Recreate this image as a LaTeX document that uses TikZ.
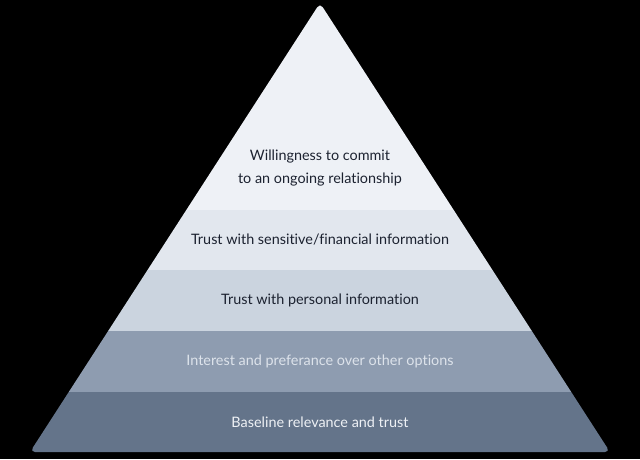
\documentclass[tikz,border=0pt]{standalone}
\usepackage{fontspec}
\setmainfont{Lato}[Ligatures=NoCommon]
\begin{document}
\begin{tikzpicture}[x=1pt,y=-1pt,
  lbl/.style={font=\fontsize{14.4}{23}\selectfont, align=center, inner sep=0pt},
  darktxt/.style={lbl, text=txtdark},
  lighttxt/.style={lbl, text=txtlight}]
\definecolor{bandA}{HTML}{EEF1F6}
\definecolor{bandB}{HTML}{E2E7EE}
\definecolor{bandC}{HTML}{CBD4DF}
\definecolor{bandD}{HTML}{8E9CB0}
\definecolor{bandE}{HTML}{64748A}
\definecolor{txtdark}{HTML}{1C2230}
\definecolor{txtlight}{HTML}{DDE3EB}
\definecolor{txtlighter}{HTML}{EEF1F5}
% black page
\fill[black] (0,0) rectangle (640,459);
\useasboundingbox (0,0) rectangle (640,459);
% pyramid bands, clipped to a rounded triangle
\begin{scope}
  \clip[rounded corners=5pt] (320,3) -- (610,452) -- (30,452) -- cycle;
  \fill[bandA] (0,0)   rectangle (640,210);
  \fill[bandB] (0,210) rectangle (640,270);
  \fill[bandC] (0,270) rectangle (640,331);
  \fill[bandD] (0,331) rectangle (640,392);
  \fill[bandE] (0,392) rectangle (640,459);
\end{scope}
% labels
\node[darktxt] (top) at (320,168.5) {Willingness to commit\\to an ongoing relationship};
\node[darktxt] (fin) at (320,240) {Trust with sensitive/financial information};
\node[darktxt] (per) at (320,300.5) {Trust with personal information};
\node[lighttxt] (pref) at (320,361.5) {Interest and preferance over other options};
\node[lbl, text=txtlighter] (base) at (320,422) {Baseline relevance and trust};
\end{tikzpicture}
\end{document}
